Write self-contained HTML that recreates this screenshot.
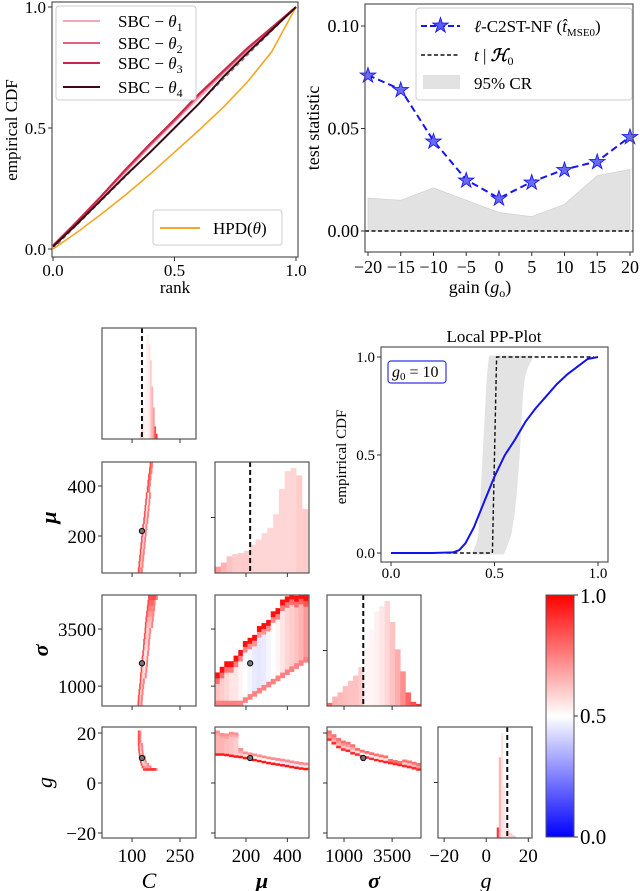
<!DOCTYPE html>
<html><head><meta charset="utf-8"><style>
html,body{margin:0;padding:0;background:#fff;}
svg{display:block;font-family:"Liberation Serif",serif;}
text{font-family:"Liberation Serif",serif;}
</style></head><body>
<svg id="fig" width="640" height="891" viewBox="0 0 640 891">
<g id="marks"></g>
<!-- Top-left SBC frame -->
<g font-size="17">
<rect x="52" y="2" width="246" height="255" fill="none" stroke="#555" stroke-width="1.2"/>
<g stroke="#333"><line x1="53" y1="257" x2="53" y2="261"/><line x1="174.5" y1="257" x2="174.5" y2="261"/><line x1="296" y1="257" x2="296" y2="261"/><line x1="48" y1="249" x2="52" y2="249"/><line x1="48" y1="128" x2="52" y2="128"/><line x1="48" y1="7" x2="52" y2="7"/></g>
<text x="53" y="276" text-anchor="middle">0.0</text>
<text x="174.5" y="276" text-anchor="middle">0.5</text>
<text x="296" y="276" text-anchor="middle">1.0</text>
<text x="46" y="255" text-anchor="end">0.0</text>
<text x="46" y="134" text-anchor="end">0.5</text>
<text x="46" y="13" text-anchor="end">1.0</text>
<text x="175" y="293" text-anchor="middle">rank</text>
<text transform="translate(17,130) rotate(-90)" text-anchor="middle">empirical CDF</text>
<g>
<rect x="56" y="6" width="140" height="94" rx="3" fill="#fff" fill-opacity="0.85" stroke="#ccc"/>
<line x1="63" y1="21" x2="100" y2="21" stroke="#f4a6b4" stroke-width="2"/>
<text x="118" y="27">SBC − <tspan font-style="italic">θ</tspan><tspan font-size="12" dy="4">1</tspan></text>
<line x1="63" y1="43" x2="100" y2="43" stroke="#e8607f" stroke-width="2"/>
<text x="118" y="49">SBC − <tspan font-style="italic">θ</tspan><tspan font-size="12" dy="4">2</tspan></text>
<line x1="63" y1="63" x2="100" y2="63" stroke="#c8274a" stroke-width="2"/>
<text x="118" y="69">SBC − <tspan font-style="italic">θ</tspan><tspan font-size="12" dy="4">3</tspan></text>
<line x1="63" y1="87" x2="100" y2="87" stroke="#3a0a14" stroke-width="2"/>
<text x="118" y="93">SBC − <tspan font-style="italic">θ</tspan><tspan font-size="12" dy="4">4</tspan></text>
</g>
<g>
<rect x="153" y="210" width="129" height="35" rx="3" fill="#fff" stroke="#ccc"/>
<line x1="160" y1="228" x2="200" y2="228" stroke="#f5a623" stroke-width="2"/>
<text x="213" y="234">HPD(<tspan font-style="italic">θ</tspan>)</text>
</g>
</g>
<!-- Top-right test statistic -->
<g font-size="18">
<rect x="365" y="4" width="268" height="248" fill="none" stroke="#555" stroke-width="1.2"/>
<g id="statTicks"></g>
<text x="480" y="293" text-anchor="middle">gain (<tspan font-style="italic">g</tspan><tspan font-size="12" dy="4">o</tspan><tspan dy="-4">)</tspan></text>
<text transform="translate(319,128) rotate(-90)" text-anchor="middle">test statistic</text>
<g>
<rect x="416" y="8" width="216" height="92" rx="3" fill="#fff" fill-opacity="0.9" stroke="#ccc"/>
<line x1="421" y1="26" x2="460" y2="26" stroke="#1515ee" stroke-width="2" stroke-dasharray="6,3"/>
<text x="440.5" y="32" text-anchor="middle" font-size="20" style="fill:#5a5af5" stroke="#1515ee" stroke-width="0.9">★</text>
<text x="474" y="32" font-size="17"><tspan font-style="italic">ℓ</tspan>-C2ST-NF (<tspan font-style="italic">t̂</tspan><tspan font-size="11" dy="4">MSE0</tspan><tspan dy="-4">)</tspan></text>
<line x1="421" y1="55" x2="460" y2="55" stroke="#111" stroke-width="1.5" stroke-dasharray="4,2.5"/>
<text x="474" y="61" font-size="17"><tspan font-style="italic">t</tspan> | <tspan font-style="italic" font-weight="bold">ℋ</tspan><tspan font-size="12" dy="4">0</tspan></text>
<rect x="423" y="75" width="37" height="14" fill="#e2e2e2"/>
<text x="474" y="89" font-size="17">95% CR</text>
</g>
</g>
<!-- PP plot -->
<g font-size="15">
<rect x="381" y="347" width="227" height="215" fill="none" stroke="#555" stroke-width="1.2"/>
<g stroke="#333"><line x1="391" y1="562" x2="391" y2="566"/><line x1="494.5" y1="562" x2="494.5" y2="566"/><line x1="598" y1="562" x2="598" y2="566"/><line x1="377" y1="553" x2="381" y2="553"/><line x1="377" y1="455" x2="381" y2="455"/><line x1="377" y1="357" x2="381" y2="357"/></g>
<text x="391" y="578" text-anchor="middle">0.0</text>
<text x="494.5" y="578" text-anchor="middle">0.5</text>
<text x="598" y="578" text-anchor="middle">1.0</text>
<text x="375" y="558" text-anchor="end">0.0</text>
<text x="375" y="460" text-anchor="end">0.5</text>
<text x="375" y="362" text-anchor="end">1.0</text>
<text x="494" y="342" text-anchor="middle" font-size="17">Local PP-Plot</text>
<text transform="translate(346,457) rotate(-90)" text-anchor="middle">empirrical CDF</text>
<rect x="388" y="361" width="58" height="22" rx="3" fill="#fff" stroke="#3333ee" stroke-width="1.2"/>
<text x="392" y="377" font-size="16"><tspan font-style="italic">g</tspan><tspan font-size="11" dy="3">0</tspan><tspan dy="-3"> = 10</tspan></text>
</g>
<g id="corner" font-size="19"></g>
<!-- Colorbar -->
<defs><linearGradient id="bwr" x1="0" y1="1" x2="0" y2="0"><stop offset="0" stop-color="#0000ff"/><stop offset="0.5" stop-color="#ffffff"/><stop offset="1" stop-color="#ff0000"/></linearGradient></defs>
<g font-size="21">
<rect x="546" y="595" width="28" height="242" fill="url(#bwr)" stroke="#555"/>
<g stroke="#333"><line x1="574" y1="595" x2="578" y2="595"/><line x1="574" y1="716" x2="578" y2="716"/><line x1="574" y1="837" x2="578" y2="837"/></g>
<text x="580" y="603">1.0</text>
<text x="580" y="723">0.5</text>
<text x="580" y="844">0.0</text>
</g>
</svg>
<script>
// ---------- data: SBC ----------
const sbcRank = [0,0.1,0.2,0.3,0.4,0.5,0.6,0.7,0.8,0.9,1.0];
const sbcTheta1 = [0.01,0.11,0.215,0.32,0.425,0.525,0.625,0.725,0.82,0.91,1.0];
const sbcTheta2 = [0.01,0.115,0.22,0.325,0.43,0.53,0.635,0.73,0.825,0.915,1.0];
const sbcTheta3 = [0.015,0.115,0.22,0.33,0.435,0.535,0.64,0.735,0.83,0.915,1.0];
const sbcTheta4 = [0.01,0.105,0.205,0.305,0.4,0.5,0.6,0.71,0.81,0.905,1.0];
const hpdCdf = [0,0.07,0.145,0.225,0.31,0.4,0.49,0.585,0.69,0.815,1.0];
// ---------- data: test statistic ----------
const gains = [-20,-15,-10,-5,0,5,10,15,20];
const statValues = [0.076,0.069,0.044,0.025,0.016,0.024,0.030,0.034,0.046];
const crUpper = [0.016,0.015,0.021,0.015,0.009,0.007,0.013,0.027,0.030];
const statXTicks = [-20,-15,-10,-5,0,5,10,15,20];
const statYTicks = [0.00,0.05,0.10];
const statYTickLabels = ["0.00","0.05","0.10"];
// ---------- data: PP plot ----------
const ppAlpha = [0,0.1,0.2,0.3,0.33,0.36,0.4,0.45,0.5,0.55,0.6,0.65,0.7,0.75,0.8,0.85,0.9,0.95,1.0];
const ppCdf = [0,0,0,0.003,0.015,0.05,0.13,0.26,0.39,0.5,0.58,0.67,0.74,0.8,0.86,0.91,0.95,0.99,1.0];
const nullStepX = [0.27,0.49,0.51,0.98];
const nullStepY = [0,0,1,1];
const crLevels = [0,0.05,0.1,0.2,0.3,0.5,0.7,0.8,0.9,0.95,1.0];
const crLeft = [0.4,0.42,0.43,0.435,0.44,0.45,0.46,0.465,0.47,0.475,0.48];
const crRight = [0.54,0.56,0.575,0.59,0.6,0.615,0.625,0.63,0.64,0.655,0.68];
// ---------- data: corner ----------
const trueC = 131, trueMu = 220, trueSigma = 2000, trueG = 10;
const histCCenters = [127,131.5,136,140.5,145,149.5,154,158.5,163,167.5,172,176.5];
const histCHeights = [0.05,0.1,0.3,0.7,0.95,1.0,0.9,0.75,0.5,0.3,0.12,0.05];
const histCVals = [0.6,0.6,0.55,0.52,0.52,0.53,0.55,0.6,0.65,0.7,0.85,0.9];
const histMuCenters = [64,92,120,148,176,204,232,260,289,317,345,373,401,429,457,485];
const histMuHeights = [0.06,0.10,0.16,0.18,0.19,0.21,0.27,0.32,0.38,0.43,0.56,0.80,0.97,1.0,0.93,0.61];
const histMuVals = [0.7,0.65,0.62,0.6,0.6,0.6,0.58,0.58,0.58,0.58,0.58,0.58,0.58,0.58,0.6,0.6];
const histSigCenters = [251,523,795,1067,1339,1611,1883,2155,2427,2699,2971,3243,3515,3787,4059,4331,4603,4875];
const histSigHeights = [0.03,0.09,0.13,0.19,0.24,0.29,0.37,0.55,0.73,0.9,0.95,1.0,0.8,0.54,0.33,0.13,0.04,0.02];
const histSigVals = [0.8,0.65,0.64,0.63,0.62,0.62,0.6,0.52,0.52,0.53,0.55,0.58,0.62,0.66,0.72,0.8,0.85,0.9];
const histGCenters = [5.5,6.5,7.5,8.5,9.5,10.5,11.5,12.5,13.5];
const histGHeights = [0.1,0.77,1.0,0.5,0.12,0.09,0.05,0.03,0.02];
const histGVals = [0.9,0.65,0.55,0.55,0.55,0.58,0.6,0.6,0.6];
// 2D bands (rows along y: x-range per row)
const cmuRowsY = [62,87,112,137,162,187,212,237,262,287,312,337,362,387,412,437,462,487];
const cmuLo = [118,120,122,124,126,128,130,132,135,137,139,141,143,146,148,150,153,155];
const cmuHi = [132,134,136,138,140,142,144,146,148,150,152,154,156,158,160,162,164,166];
const cmuVals = [0.7,0.62,0.62,0.6,0.6,0.58,0.58,0.58,0.56,0.56,0.55,0.5,0.52,0.47,0.55,0.5,0.55,0.65];
const csigRowsY = [252,497,742,987,1232,1477,1722,1967,2212,2457,2702,2947,3192,3437,3682,3927,4172,4417,4662,4907];
const csigLo = [117,118,120,122,124,125,127,129,130,132,134,135,137,139,140,142,144,146,148,150];
const csigHi = [133,135,137,139,141,143,145,147,149,151,153,155,157,160,163,166,169,172,175,178];
const csigVals = [0.65,0.62,0.6,0.6,0.58,0.58,0.56,0.56,0.55,0.55,0.56,0.58,0.6,0.6,0.62,0.65,0.7,0.75,0.8,0.85];
const cgRowsY = [5.5,6.5,7.5,8.5,9.5,10.5,11.5,12.5,13.5,14.5,15.5,16.5,17.5,18.5,19.5,20.5];
const cgLo = [134,130,127,125,123,122,121,120,119,119,118,118,118,118,118,118];
const cgHi = [178,160,150,145,142,140,138,136,134,133,131,130,129,128,128,128];
const cgVals = [0.9,0.7,0.62,0.6,0.58,0.58,0.6,0.6,0.62,0.62,0.65,0.65,0.68,0.7,0.7,0.72];
// 2D bands (columns along x: y-range per column)
const musigColsX = [61,84,106,129,151,174,196,219,241,264,286,309,331,354,376,399,421,444,466,489];
const musigLo = [130,130,130,130,130,130,280,420,550,690,820,960,1090,1230,1360,1500,1630,1770,1900,2040];
const musigHi = [1510,1740,1970,2200,2420,2650,2880,3110,3330,3560,3780,4010,4240,4470,4690,4920,5000,5000,5000,5000];
const musigInner = [0.62,0.6,0.58,0.55,0.55,0.52,0.5,0.48,0.46,0.45,0.46,0.48,0.5,0.52,0.55,0.58,0.6,0.62,0.65,0.7];
const mugColsX = [61,84,106,129,151,174,196,219,241,264,286,309,331,354,376,399,421,444,466,489];
const mugLo = [11,11,10.8,10.5,10.2,10,9.6,9.2,8.8,8.4,8,7.6,7.3,7,6.7,6.4,6,5.7,5.4,5.2];
const mugHi = [21,20,20,20,20,14,13,12.5,12,11.5,11,10.5,10,9.8,9.5,9.2,9,8.7,8.5,8.2];
const mugInner = [0.65,0.65,0.63,0.62,0.6,0.6,0.55,0.52,0.5,0.5,0.5,0.5,0.48,0.47,0.46,0.45,0.45,0.45,0.45,0.46];
const siggColsX = [222,467,712,957,1202,1447,1692,1937,2182,2427,2672,2917,3162,3407,3652,3897,4142,4387,4632,4877];
const siggLo = [17,15.5,14,13,12.5,11.5,11,10.3,9.8,9.3,8.8,8.4,8,7.6,7.2,6.8,6.4,6,5.5,5];
const siggHi = [21,19.5,18,17,16,15,14,13,12.5,12,11.5,11,10.5,10,9.5,9.2,9,8.7,8.4,8.2];
const siggInner = [0.7,0.66,0.64,0.62,0.6,0.58,0.55,0.54,0.52,0.52,0.52,0.54,0.55,0.56,0.57,0.58,0.6,0.62,0.65,0.7];
// tick data
const cTicks = [100,250], muTicks = [200,400], sigTicks = [1000,3500], gTicks = [-20,0,20];

const NS = "http://www.w3.org/2000/svg";
const marks = document.getElementById('marks');
const corner = document.getElementById('corner');
function mk(tag, attrs, parent) {
  const e = document.createElementNS(NS, tag);
  for (const k in attrs) e.setAttribute(k, attrs[k]);
  (parent || marks).appendChild(e);
  return e;
}
function bwr(v) {
  v = Math.max(0, Math.min(1, v));
  let r, g, b;
  if (v < 0.5) { r = g = Math.round(v * 2 * 255); b = 255; }
  else { r = 255; g = b = Math.round((2 - 2 * v) * 255); }
  return `rgb(${r},${g},${b})`;
}
// ---------- SBC ----------
const sbcX = v => 53 + v * 243, sbcY = v => 249 - v * 242;
function linePath(xs, ys, fx, fy) { return xs.map((x, i) => (i ? 'L' : 'M') + fx(x).toFixed(1) + ',' + fy(ys[i]).toFixed(1)).join(''); }
let el;
el = mk('line', {x1: sbcX(0), y1: sbcY(0), x2: sbcX(1), y2: sbcY(1), stroke: '#888', 'stroke-width': 1.2, 'stroke-dasharray': '4,3'});


el = mk('path', {d: linePath(sbcRank, hpdCdf, sbcX, sbcY), fill: 'none', stroke: '#f5a623', 'stroke-width': 1.6});


const sbcSeries = [[sbcTheta1, '#f4a6b4'], [sbcTheta2, '#e8607f'], [sbcTheta3, '#c8274a'], [sbcTheta4, '#3a0a14']];
sbcSeries.forEach((s, i) => {
  const p = mk('path', {d: linePath(sbcRank, s[0], sbcX, sbcY), fill: 'none', stroke: s[1], 'stroke-width': 2});
  
  
});
// ---------- Stat ----------
const stX = v => 368 + (v + 20) * 6.55, stY = v => 231 - v * 2050;
const st = document.getElementById('statTicks');
statXTicks.forEach(t => {
  const l = mk('line', {x1: stX(t), y1: 252, x2: stX(t), y2: 256, stroke: '#333'}, st);
  
  
  const tx = mk('text', {x: stX(t), y: 273, 'text-anchor': 'middle'}, st);
  tx.textContent = t < 0 ? '−' + Math.abs(t) : String(t);
  
  
});
statYTicks.forEach((t, i) => {
  const l = mk('line', {x1: 361, y1: stY(t), x2: 365, y2: stY(t), stroke: '#333'}, st);
  
  
  const tx = mk('text', {x: 359, y: stY(t) + 6, 'text-anchor': 'end'}, st);
  tx.textContent = statYTickLabels[i];
  
  
});
let crd = gains.map((g, i) => (i ? 'L' : 'M') + stX(g) + ',' + stY(crUpper[i])).join('') + 'L' + stX(gains[gains.length - 1]) + ',' + stY(0) + 'L' + stX(gains[0]) + ',' + stY(0) + 'Z';
el = mk('path', {d: crd, fill: '#e2e2e2', stroke: '#d4d4d4', 'stroke-width': 0.8});


el = mk('line', {x1: 365, y1: stY(0), x2: 633, y2: stY(0), stroke: '#111', 'stroke-width': 1.4, 'stroke-dasharray': '4,2.5'});


el = mk('path', {d: linePath(gains, statValues, stX, stY), fill: 'none', stroke: '#1515ee', 'stroke-width': 2, 'stroke-dasharray': '7,4'});


gains.forEach((g, i) => {
  const s = mk('text', {x: stX(g), y: stY(statValues[i]) + 7, 'text-anchor': 'middle', 'font-size': 20, style: 'fill:#6a6af7', stroke: '#1515ee', 'stroke-width': 0.9});
  s.textContent = '★';
  
  
});
// ---------- PP plot ----------
const ppX = v => 391 + v * 207, ppY = v => 553 - v * 196;
let crp = crLevels.map((l, i) => (i ? 'L' : 'M') + ppX(crLeft[i]) + ',' + ppY(l)).join('');
for (let i = crLevels.length - 1; i >= 0; i--) crp += 'L' + ppX(crRight[i]) + ',' + ppY(crLevels[i]);
el = mk('path', {d: crp + 'Z', fill: '#e3e3e3', stroke: '#e3e3e3', 'stroke-linejoin': 'round', 'stroke-width': 3});


el = mk('path', {d: linePath(nullStepX, nullStepY, ppX, ppY), fill: 'none', stroke: '#111', 'stroke-width': 1.4, 'stroke-dasharray': '4,2.5'});


el = mk('path', {d: linePath(ppAlpha, ppCdf, ppX, ppY), fill: 'none', stroke: '#1212ee', 'stroke-width': 2, 'stroke-linejoin': 'round'});


// ---------- Corner ----------
const colX0 = [102, 215, 327, 438], colW = 94;
const rowY0 = [328, 462, 595, 727], rowH = 111;
const sx = [v => 102 + (v - 6) * 0.3197, v => 215 + (v - 50) * 0.2067, v => 327 + (v - 115) * 0.01924, v => 438 + (v + 22.9) * 2.105];
const sy = [null, v => 573 - (v - 52) * 0.25, v => 706 - (v - 130) * 0.02284, v => 838 - (v + 22) * 2.5];
const xTicks = [cTicks, muTicks, sigTicks, gTicks];
const yTicks = [null, muTicks, sigTicks, gTicks];
function clipFor(r, c) {
  const id = 'clip' + r + c;
  const cp = mk('clipPath', {id: id}, corner);
  mk('rect', {x: colX0[c], y: rowY0[r], width: colW, height: rowH}, cp);
  return 'url(#' + id + ')';
}
function frame(r, c) {
  const f = mk('rect', {x: colX0[c], y: rowY0[r], width: colW, height: rowH, fill: 'none', stroke: '#555', 'stroke-width': 1.2}, corner);
  
  
  xTicks[c].forEach(t => {
    const l = mk('line', {x1: sx[c](t), y1: rowY0[r] + rowH, x2: sx[c](t), y2: rowY0[r] + rowH + 4, stroke: '#333'}, corner);
    
    
  });
  if (r > 0 && c < r) {
    yTicks[r].forEach(t => {
      const l = mk('line', {x1: colX0[c] - 4, y1: sy[r](t), x2: colX0[c], y2: sy[r](t), stroke: '#333'}, corner);
      
      
    });
  }
  if (r > 0 && c === r) {
    const l = mk('line', {x1: colX0[c] - 4, y1: rowY0[r] + rowH / 2, x2: colX0[c], y2: rowY0[r] + rowH / 2, stroke: '#333'}, corner);
    
    
  }
}
function hist(r, c, centers, heights, vals, name) {
  const g = mk('g', {'clip-path': clipFor(r, c)}, corner);
  
  
  const w = Math.abs(sx[c](centers[1]) - sx[c](centers[0]));
  centers.forEach((ctr, i) => {
    const h = heights[i] * 105;
    const b = mk('rect', {x: sx[c](ctr) - w / 2, y: rowY0[r] + rowH - h, width: w + 0.3, height: h, fill: bwr(vals[i])}, g);
    
    
  });
}
function trueLine(r, c, v) {
  const l = mk('line', {x1: sx[c](v), y1: rowY0[r], x2: sx[c](v), y2: rowY0[r] + rowH, stroke: '#111', 'stroke-width': 2, 'stroke-dasharray': '5,3'}, corner);
  
  
}
function rowBand(r, c, rowsY, lo, hi, vals, binX, binY, name) {
  const g = mk('g', {'clip-path': clipFor(r, c)}, corner);
  
  
  rowsY.forEach((yv, i) => {
    const n = Math.max(1, Math.round((hi[i] - lo[i]) / binX));
    for (let k = 0; k < n; k++) {
      const x0 = lo[i] + k * binX;
      const v = k === 0 ? 0.85 : (k === n - 1 ? 0.75 : vals[i]);
      const x1p = sx[c](x0), x2p = sx[c](x0 + binX);
      const y1p = sy[r](yv + binY / 2), y2p = sy[r](yv - binY / 2);
      const cell = mk('rect', {x: x1p, y: y1p, width: x2p - x1p + 0.3, height: y2p - y1p + 0.3, fill: bwr(v)}, g);
      
      
    }
  });
}
function colBand(r, c, colsX, lo, hi, inner, binX, binY, vLo, vHi, name) {
  const g = mk('g', {'clip-path': clipFor(r, c)}, corner);
  
  
  colsX.forEach((xv, i) => {
    const n = Math.max(1, Math.round((hi[i] - lo[i]) / binY));
    for (let k = 0; k < n; k++) {
      const y0 = lo[i] + k * binY;
      let v = inner[i];
      if (k === n - 1) v = vHi; else if (k === n - 2 && n > 3) v = (vHi + inner[i]) / 2; else if (k === 0) v = vLo;
      const x1p = sx[c](xv - binX / 2), x2p = sx[c](xv + binX / 2);
      const y1p = sy[r](y0 + binY), y2p = sy[r](y0);
      const cell = mk('rect', {x: x1p, y: y1p, width: x2p - x1p + 0.3, height: y2p - y1p + 0.3, fill: bwr(v)}, g);
      
      
    }
  });
}
function dot(r, c, xv, yv) {
  const d = mk('circle', {cx: sx[c](xv), cy: sy[r](yv), r: 2.6, fill: '#777', stroke: '#111', 'stroke-width': 1.1}, corner);
  
  
}
hist(0, 0, histCCenters, histCHeights, histCVals, 'hist-C'); trueLine(0, 0, trueC);
hist(1, 1, histMuCenters, histMuHeights, histMuVals, 'hist-mu'); trueLine(1, 1, trueMu);
hist(2, 2, histSigCenters, histSigHeights, histSigVals, 'hist-sigma'); trueLine(2, 2, trueSigma);
hist(3, 3, histGCenters, histGHeights, histGVals, 'hist-g'); trueLine(3, 3, trueG);
rowBand(1, 0, cmuRowsY, cmuLo, cmuHi, cmuVals, 5, 25, 'heatmap-C-mu'); dot(1, 0, trueC, trueMu);
rowBand(2, 0, csigRowsY, csigLo, csigHi, csigVals, 5, 245, 'heatmap-C-sigma'); dot(2, 0, trueC, trueSigma);
rowBand(3, 0, cgRowsY, cgLo, cgHi, cgVals, 5, 1, 'heatmap-C-g'); dot(3, 0, trueC, trueG);
colBand(2, 1, musigColsX, musigLo, musigHi, musigInner, 22.5, 245, 0.75, 0.97, 'heatmap-mu-sigma'); dot(2, 1, trueMu, trueSigma);
colBand(3, 1, mugColsX, mugLo, mugHi, mugInner, 22.5, 1, 0.95, 0.72, 'heatmap-mu-g'); dot(3, 1, trueMu, trueG);
colBand(3, 2, siggColsX, siggLo, siggHi, siggInner, 245, 1, 0.92, 0.78, 'heatmap-sigma-g'); dot(3, 2, trueSigma, trueG);
for (let r = 0; r < 4; r++) for (let c = 0; c <= r; c++) frame(r, c);
function txt(x, y, s, anchor, name, extra) {
  const t = mk('text', Object.assign({x: x, y: y, 'text-anchor': anchor}, extra || {}), corner);
  t.textContent = s;
  
  
  return t;
}
const fmt = t => t < 0 ? '−' + Math.abs(t) : String(t);
for (let c = 0; c < 4; c++) xTicks[c].forEach(t => txt(sx[c](t), 862, fmt(t), 'middle', 'corner-xtick-label'));
for (let r = 1; r < 4; r++) yTicks[r].forEach(t => txt(96, sy[r](t) + 7, fmt(t), 'end', 'corner-ytick-label'));
const xNames = ['C', 'μ', 'σ', 'g'];
const xCenters = [149, 262, 374, 486];
xNames.forEach((n, i) => txt(xCenters[i], 888, n, 'middle', 'corner-x-title', {'font-style': 'italic', 'font-size': 22, 'font-weight': i === 1 || i === 2 ? 'bold' : 'normal'}));
[['μ', 1, 56], ['σ', 2, 48], ['g', 3, 52]].forEach(a => {
  txt(0, 0, a[0], 'middle', 'corner-y-title', {'font-style': 'italic', 'font-size': 22, 'font-weight': a[0] === 'g' ? 'normal' : 'bold', transform: `translate(${a[2]},${rowY0[a[1]] + rowH / 2}) rotate(-90)`});
});
</script>
</body></html>
